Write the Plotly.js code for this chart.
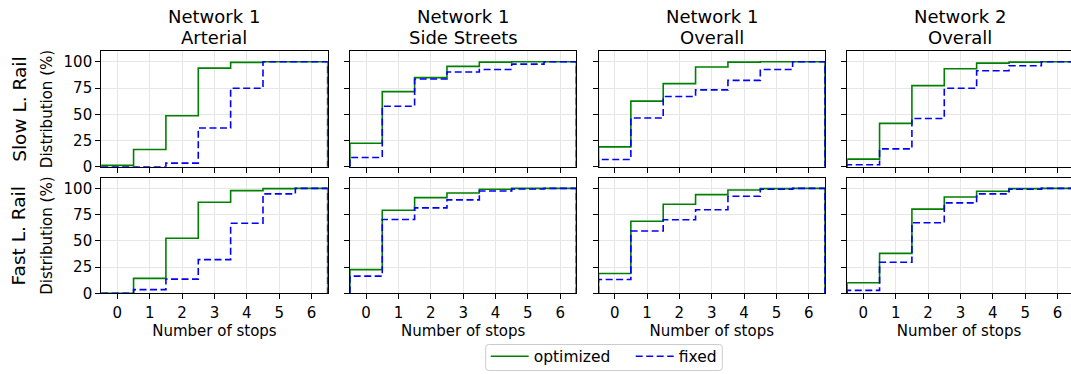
<!DOCTYPE html>
<html>
<head>
<meta charset="utf-8">
<script src="https://cdn.plot.ly/plotly-3.0.1.min.js"></script>
<style>
  html, body { margin: 0; padding: 0; overflow: hidden; background: #ffffff; }
  #chart { width: 1071px; height: 374px; }
</style>
</head>
<body>
<div id="chart"></div>
<script>
// Number of stops on the x axis (one histogram bin per value)
const stops = [0, 1, 2, 3, 4, 5, 6];

// Column headings and row labels
const networks = ['Network 1', 'Network 1', 'Network 1', 'Network 2'];
const areas = ['Arterial', 'Side Streets', 'Overall', 'Overall'];
const railModes = ['Slow L. Rail', 'Fast L. Rail'];
const seriesNames = ['optimized', 'fixed'];
const yTicks = [0, 25, 50, 75, 100];

// Cumulative distribution (%) of the number of stops
const slowArterialOptimized    = [1.3, 16.4, 48.6, 94.0, 99.4, 100, 100];
const slowArterialFixed        = [0, 0, 3.5, 36.9, 74.8, 100, 100];
const slowSideOptimized        = [22.4, 71.6, 84.9, 95.6, 99.7, 100, 100];
const slowSideFixed            = [8.8, 57.7, 83.6, 90.2, 92.7, 97.8, 100];
const slowNet1Optimized        = [18.9, 62.5, 79.2, 95.0, 99.7, 100, 100];
const slowNet1Fixed            = [6.9, 46.4, 66.9, 73.2, 82.3, 92.7, 100];
const slowNet2Optimized        = [7.3, 41.3, 77.3, 93.4, 98.7, 99.7, 100];
const slowNet2Fixed            = [1.9, 17.0, 46.0, 74.8, 91.5, 96.2, 100];

const fastArterialOptimized    = [0, 14.2, 52.5, 86.8, 97.8, 99.7, 100];
const fastArterialFixed        = [0, 3.5, 13.5, 32.1, 66.7, 94.7, 100];
const fastSideOptimized        = [22.6, 79.2, 91.2, 95.6, 99.1, 100, 100];
const fastSideFixed            = [16.4, 70.4, 81.4, 89.0, 97.5, 99.4, 100];
const fastNet1Optimized        = [18.9, 68.6, 84.9, 94.0, 98.4, 99.7, 100];
const fastNet1Fixed            = [13.2, 59.4, 70.1, 79.6, 92.5, 99.1, 100];
const fastNet2Optimized        = [10.1, 38.1, 80.2, 91.8, 97.2, 99.7, 100];
const fastNet2Fixed            = [2.8, 29.6, 67.3, 86.2, 94.7, 99.1, 100];

// Panels in row-major order: [optimized, fixed]
const panelSeries = [
  [slowArterialOptimized, slowArterialFixed],
  [slowSideOptimized, slowSideFixed],
  [slowNet1Optimized, slowNet1Fixed],
  [slowNet2Optimized, slowNet2Fixed],
  [fastArterialOptimized, fastArterialFixed],
  [fastSideOptimized, fastSideFixed],
  [fastNet1Optimized, fastNet1Fixed],
  [fastNet2Optimized, fastNet2Fixed]
];

// ---- geometry (pixels) ----
const W = 1071, H = 374;
const colLeft = [101.2, 349.9, 598.5, 847.2];
const colWidth = 226.5;
const rowTop = [51.7, 179.3];
const rowHeight = 116.4;

// shared legend frame and entry positions
const legendBox = { left: 485.7, right: 722.3, top: 347.3, bottom: 373.5, radius: 3 };
const legendEntryLeft = [485.7, 630.7];
const legendTextMid = 359.5;

const FONT = 'DejaVu Sans, Liberation Sans, sans-serif';
const seriesStyle = [
  { color: '#008000', width: 1.6, dash: 'solid' },
  { color: '#0000ff', width: 1.6, dash: '7px,3.5px' }
];

const px = v => v / W;          // horizontal pixel -> paper
const py = v => 1 - v / H;      // vertical pixel (from top) -> paper

// Step outline of a cumulative histogram: rises at the left edge of the
// first bin, steps at each bin boundary and drops at the right edge.
function stepOutline(values) {
  const half = 0.5;
  const x = [stops[0] - half, stops[0] - half];
  const y = [0, values[0]];
  for (let i = 1; i < stops.length; i++) {
    x.push(stops[i] - half);
    y.push(values[i]);
  }
  const last = stops[stops.length - 1] + half;
  x.push(last, last);
  y.push(values[values.length - 1], 0);
  return { x, y };
}

// Rounded rectangle path in paper coordinates
function roundedRect(b) {
  const rx = b.radius / W, ry = b.radius / H;
  const x0 = px(b.left), x1 = px(b.right), yT = py(b.top), yB = py(b.bottom);
  return [
    'M', x0 + rx, yT,
    'L', x1 - rx, yT, 'Q', x1, yT, x1, yT - ry,
    'L', x1, yB + ry, 'Q', x1, yB, x1 - rx, yB,
    'L', x0 + rx, yB, 'Q', x0, yB, x0, yB + ry,
    'L', x0, yT - ry, 'Q', x0, yT, x0 + rx, yT, 'Z'
  ].join(' ');
}

const legendFont = { family: FONT, size: 15.5, color: '#000000' };
const legendBase = {
  orientation: 'h', xanchor: 'left', yanchor: 'middle',
  y: py(legendTextMid), borderwidth: 0, bgcolor: 'rgba(0,0,0,0)',
  itemwidth: 38, font: legendFont
};

const traces = [];
const layout = {
  width: W, height: H,
  margin: { l: 0, r: 0, t: 0, b: 0 },
  paper_bgcolor: '#ffffff',
  plot_bgcolor: '#ffffff',
  font: { family: FONT, size: 15, color: '#000000' },
  showlegend: true,
  legend: Object.assign({}, legendBase, { x: px(legendEntryLeft[0]) }),
  legend2: Object.assign({}, legendBase, { x: px(legendEntryLeft[1]) }),
  shapes: [{
    type: 'path', xref: 'paper', yref: 'paper', layer: 'above',
    path: roundedRect(legendBox),
    line: { color: '#cccccc', width: 1 }, fillcolor: 'rgba(255,255,255,0.8)'
  }],
  annotations: []
};

const xMin = stops[0] - 0.5, xMax = stops[stops.length - 1] + 0.5;
const pxPerStop = colWidth / (xMax - xMin);

panelSeries.forEach((pair, p) => {
  const r = Math.floor(p / 4), c = p % 4;
  const n = p + 1;
  const xa = 'x' + (n === 1 ? '' : n), ya = 'y' + (n === 1 ? '' : n);
  const xKey = 'xaxis' + (n === 1 ? '' : n), yKey = 'yaxis' + (n === 1 ? '' : n);

  pair.forEach((values, s) => {
    const o = stepOutline(values);
    traces.push({
      type: 'scatter', mode: 'lines',
      x: o.x, y: o.y,
      xaxis: xa, yaxis: ya,
      line: { shape: 'hv', color: seriesStyle[s].color, width: seriesStyle[s].width, dash: seriesStyle[s].dash },
      name: seriesNames[s],
      legend: s === 0 ? 'legend' : 'legend2',
      legendgroup: seriesNames[s],
      showlegend: p === 0,
      hoverinfo: 'skip'
    });
  });

  const common = {
    showline: true, mirror: true, linecolor: '#000000', linewidth: 1,
    ticks: 'outside', ticklen: 5, tickwidth: 1, tickcolor: '#000000',
    showgrid: true, gridcolor: '#e6e6e6', gridwidth: 1,
    zeroline: false, fixedrange: true,
    tickfont: { family: FONT, size: 15, color: '#000000' }
  };

  // the last column runs up to the page edge, so its range is trimmed to keep the same scale
  const right = Math.min(colLeft[c] + colWidth, W);
  const rangeEnd = xMin + (right - colLeft[c]) / pxPerStop;

  layout[xKey] = Object.assign({}, common, {
    domain: [px(colLeft[c]), px(right)],
    anchor: ya,
    range: [xMin, rangeEnd],
    tickmode: 'array', tickvals: stops, ticktext: stops.map(String),
    showticklabels: r === 1,
    ticklabelstandoff: 1,
    title: r === 1 ? { text: 'Number of stops', font: { family: FONT, size: 15, color: '#000000' }, standoff: 4 } : { text: '' }
  });

  const top = rowTop[r];
  layout[yKey] = Object.assign({}, common, {
    domain: [(H - top - rowHeight) / H, (H - top) / H],
    anchor: xa,
    mirror: right < colLeft[c] + colWidth ? false : true,
    range: [0, 110],
    tickmode: 'array', tickvals: yTicks, ticktext: yTicks.map(String),
    showticklabels: c === 0,
    title: c === 0 ? { text: 'Distribution (%)', font: { family: FONT, size: 15, color: '#000000' }, standoff: 7 } : { text: '' }
  });
});

// Column headings (two lines each)
networks.forEach((net, c) => {
  const cx = px(colLeft[c] + colWidth / 2);
  layout.annotations.push({
    xref: 'paper', yref: 'paper', x: cx, y: py(17),
    xanchor: 'center', yanchor: 'middle', showarrow: false,
    text: net, font: { family: FONT, size: 18, color: '#000000' }
  });
  layout.annotations.push({
    xref: 'paper', yref: 'paper', x: cx, y: py(37.5),
    xanchor: 'center', yanchor: 'middle', showarrow: false,
    text: areas[c], font: { family: FONT, size: 18, color: '#000000' }
  });
});

// Row labels
railModes.forEach((mode, r) => {
  layout.annotations.push({
    xref: 'paper', yref: 'paper', x: px(18.8), y: py(rowTop[r] + rowHeight / 2),
    xanchor: 'center', yanchor: 'middle', showarrow: false, textangle: -90,
    text: mode, font: { family: FONT, size: 18.5, color: '#000000' }
  });
});

Plotly.newPlot('chart', traces, layout, { staticPlot: true, displayModeBar: false });
</script>
</body>
</html>
